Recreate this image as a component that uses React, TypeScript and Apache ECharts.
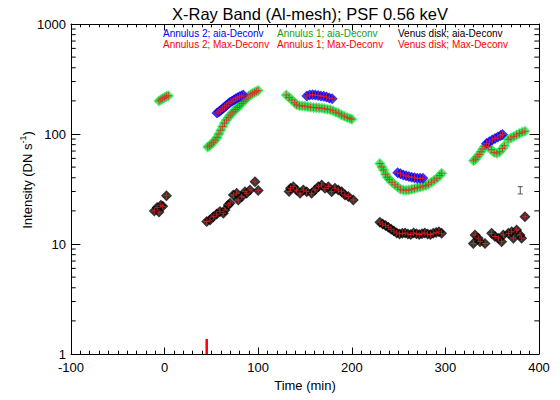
import { useEffect, useRef } from 'react';
import * as echarts from 'echarts';

// Annulus 1 (green), aia-Deconv; Max-Deconv coincides within a pixel
const annulus1 = [
  [-6, 200], [-4, 205], [-2, 210], [0, 215], [2, 220], [4, 223],
  [46, 76], [48, 78], [50, 81], [52, 84], [54, 88], [56, 93], [58, 100], [60, 108], [62, 117], [64, 126],
  [66, 134], [68, 141], [70, 148], [72, 155], [74, 161], [76, 167], [78, 174], [80, 181], [82, 189],
  [84, 197], [86, 205], [88, 213], [90, 221], [92, 228], [94, 234], [96, 238], [98, 243], [100, 248],
  [130, 226], [133, 215], [136, 204], [139, 192], [141, 184], [144, 181], [147, 180], [150, 179], [153, 177],
  [156, 175], [159, 174], [162, 173], [165, 172], [168, 171], [171, 170], [174, 168], [177, 166], [180, 163],
  [183, 158], [186, 154], [189, 149], [192, 145], [195, 141], [198, 138], [200, 136],
  [230, 54], [232, 50], [234, 47], [236, 43], [238, 40.5], [240, 38.5], [243, 36.5], [246, 34.5], [249, 33],
  [252, 31.5], [255, 31], [258, 30.8], [261, 31], [264, 31.5], [267, 32], [270, 32.5], [273, 33], [276, 33.5],
  [279, 34], [282, 35], [285, 36.5], [288, 38], [291, 39.5], [294, 42], [296, 44],
  [330, 57], [332, 59], [334, 62], [336, 65], [338, 69], [340, 73], [342, 77], [346, 76], [349, 72], [352, 68],
  [355, 67], [358, 69], [361, 74], [363, 78], [367, 89], [370, 92], [373, 95], [376, 98], [379, 101],
  [382, 104], [385, 106],
];

// Annulus 2 (blue), aia-Deconv
const annulus2 = [
  [56, 155], [58, 159], [60, 164], [62, 170], [64, 176], [66, 182], [68, 188], [70, 194], [72, 199],
  [74, 204], [76, 209], [78, 214], [80, 218], [82, 222], [84, 226],
  [152, 222], [155, 226], [158, 227], [161, 226], [164, 224], [167, 222], [170, 220], [173, 217], [176, 213], [179, 209],
  [249, 44.5], [252, 43.5], [255, 42.5], [258, 41.8], [261, 41], [264, 40.5], [267, 40], [270, 39.5], [273, 39.5], [276, 39.5],
  [344, 82], [347, 85], [350, 88], [353, 91], [356, 94], [359, 97], [361, 99],
];

// Venus disk, aia-Deconv
const venus = [
  [-11, 20], [-8, 21.5], [-6, 19.5], [-4, 22.5], [-2, 22], [2, 27.5],
  [45, 16], [48.5, 16.5], [52, 17.7], [55.7, 18.7], [59.2, 19.7], [62.7, 19], [64.5, 20.4], [68, 22.6],
  [69.9, 23.5], [73.4, 27.9], [77, 28.9], [78.7, 25.1], [82.4, 26.9], [85.9, 29.9], [87.7, 28.9],
  [91.2, 31], [96.6, 36.8], [100, 30.6],
  [133, 30], [134.5, 32.1], [137.5, 33.2], [141, 31], [144.7, 28.9], [148.2, 31], [151.8, 29.9], [157.1, 28.9],
  [160.7, 31], [164.2, 33.2], [167.8, 34.4], [171.4, 32.1], [174.9, 33.2], [178.5, 29.9], [182, 32.1],
  [185.6, 31], [189.2, 29.9], [192.7, 27.9], [196.3, 27], [201.6, 25.1],
  [230, 15.8], [233, 15.2], [236, 14.7], [239, 14.2], [242, 13.6], [245, 13.1], [248, 12.6], [251, 12.3],
  [254, 12.5], [257, 12.6], [260, 12.3], [263, 12.2], [266, 12.6], [269, 12.4], [272, 12.2], [275, 12.4],
  [278, 12.6], [281, 12.3], [284, 12.2], [287, 12.5], [290, 12.7], [293, 12.9], [296, 12.5],
  [329.8, 10.1], [331.6, 12.1], [335.1, 11.3], [337, 10.5], [342.3, 10.1], [349.4, 12.5], [353, 11.7],
  [356.5, 11.3], [360.1, 10.5], [361.9, 12.1], [367.2, 12.5], [370.8, 12.9], [372.6, 11.3], [376.1, 13.4],
  [379.7, 12.1], [381.5, 11.3], [385, 17.7],
];

// error bar: [time, low, high]
const errorBar = [[380, 28.5, 33.2]];
// red marker at the bottom: [time, low, high]
const timeMarker = [[45, 1, 1.37]];

const xRange = [-100, 400];
const xInterval = 100;
const yRange = [1, 1000];
const yMinorTicks = [2, 3, 4, 5, 6, 7, 8, 9, 20, 30, 40, 50, 60, 70, 80, 90, 200, 300, 400, 500, 600, 700, 800, 900];

const titleText = 'X-Ray Band (Al-mesh); PSF 0.56 keV';
const xName = 'Time (min)';
const legendRows = [
  [
    { text: 'Annulus 2; aia-Deconv', color: '#0000ff' },
    { text: 'Annulus 1; aia-Deconv', color: '#14a014' },
    { text: 'Venus disk; aia-Deconv', color: '#000000' },
  ],
  [
    { text: 'Annulus 2; Max-Deconv', color: '#ff0000' },
    { text: 'Annulus 1; Max-Deconv', color: '#ff0000' },
    { text: 'Venus disk; Max-Deconv', color: '#ff0000' },
  ],
];

const FONT = "'Liberation Sans', Arial, Helvetica, sans-serif";
const PLUS = 'path://M0,3H7V4H0Z M3,0H4V7H3Z';

export default function App() {
  const ref = useRef<HTMLDivElement>(null);
  useEffect(() => {
    if (!ref.current) return;
    const chart = echarts.init(ref.current, null, { renderer: 'svg' });
    const colX = [163, 277, 398];
    const rowY = [33, 44.5];
    const legendGraphics: any[] = [];
    legendRows.forEach((row, r) =>
      row.forEach((item, c) =>
        legendGraphics.push({
          type: 'text',
          x: colX[c],
          y: rowY[r],
          style: {
            text: item.text, fill: item.color, fontFamily: FONT, fontSize: 10,
            verticalAlign: 'middle', align: 'left',
          },
        })
      )
    );

    const axisCommon = {
      axisLine: { onZero: false, lineStyle: { color: '#000', width: 1 } },
      splitLine: { show: false },
    };
    const xAxisBase = {
      type: 'value',
      min: xRange[0],
      max: xRange[1],
      interval: xInterval,
      ...axisCommon,
      axisTick: { inside: true, length: 6.5, lineStyle: { color: '#000' } },
      minorTick: { show: true, splitNumber: 10, length: 3.3, lineStyle: { color: '#000' } },
      minorSplitLine: { show: false },
    };
    const yAxisBase = {
      type: 'log',
      logBase: 10,
      min: yRange[0],
      max: yRange[1],
      ...axisCommon,
      axisTick: { inside: true, length: 9.4, lineStyle: { color: '#000' } },
    };

    const option: any = {
      animation: false,
      backgroundColor: '#fff',
      title: {
        text: titleText,
        left: 305,
        top: 0,
        textAlign: 'center',
        textStyle: { fontFamily: FONT, fontSize: 16.5, fontWeight: 'normal', color: '#000' },
      },
      grid: { left: 71, right: 21, top: 24, bottom: 46 },
      xAxis: [
        {
          ...xAxisBase,
          position: 'bottom',
          axisLabel: { fontFamily: FONT, fontSize: 13, color: '#000', margin: 7 },
          name: xName,
          nameLocation: 'middle',
          nameGap: 25,
          nameTextStyle: { fontFamily: FONT, fontSize: 13, color: '#000' },
        },
        { ...xAxisBase, position: 'top', axisLabel: { show: false } },
      ],
      yAxis: [
        {
          ...yAxisBase,
          position: 'left',
          axisLabel: { fontFamily: FONT, fontSize: 13, color: '#000', margin: 5, formatter: (v: number) => String(v) },
        },
        { ...yAxisBase, position: 'right', axisLabel: { show: false } },
      ],
      graphic: [
        ...legendGraphics,
        {
          type: 'text',
          x: 26,
          y: 180,
          rotation: Math.PI / 2,
          style: {
            text: '{a|Intensity (DN s}{b|-1}{a|)}',
            align: 'center',
            verticalAlign: 'middle',
            rich: {
              a: { fontFamily: FONT, fontSize: 13, fill: '#000', lineHeight: 16, verticalAlign: 'bottom' },
              b: { fontFamily: FONT, fontSize: 9, fill: '#000', lineHeight: 16, verticalAlign: 'top', padding: [0, 0, 6, 0] },
            },
          },
        },
      ],
      series: [
        {
          name: 'Annulus 1; aia-Deconv', type: 'scatter', data: annulus1, symbol: 'diamond', symbolSize: 11,
          itemStyle: { color: '#18f048' }, silent: true,
        },
        {
          name: 'Annulus 2; aia-Deconv', type: 'scatter', data: annulus2, symbol: 'diamond', symbolSize: 11,
          itemStyle: { color: '#0000ff' }, silent: true,
        },
        {
          name: 'Annulus 1; Max-Deconv', type: 'scatter', data: annulus1, symbol: PLUS, symbolSize: 7,
          itemStyle: { color: '#e02a2a', opacity: 0.85 }, silent: true,
        },
        {
          name: 'Annulus 2; Max-Deconv', type: 'scatter', data: annulus2, symbol: PLUS, symbolSize: 7,
          itemStyle: { color: '#e82020' }, silent: true,
        },
        {
          name: 'Venus disk; aia-Deconv', type: 'scatter', data: venus, symbol: 'diamond', symbolSize: 11,
          itemStyle: { color: '#000' }, silent: true,
        },
        {
          name: 'Venus disk; Max-Deconv', type: 'scatter', data: venus, symbol: PLUS, symbolSize: 6,
          itemStyle: { color: '#ff2020' }, silent: true,
        },
        {
          type: 'custom', silent: true, data: errorBar,
          renderItem: (params: any, api: any) => {
            const lo = api.coord([api.value(0), api.value(1)]);
            const hi = api.coord([api.value(0), api.value(2)]);
            const st = { stroke: '#555', lineWidth: 1 };
            return {
              type: 'group',
              children: [
                { type: 'line', shape: { x1: lo[0], y1: lo[1], x2: hi[0], y2: hi[1] }, style: st },
                { type: 'line', shape: { x1: lo[0] - 2.5, y1: lo[1], x2: lo[0] + 2.5, y2: lo[1] }, style: st },
                { type: 'line', shape: { x1: hi[0] - 2.5, y1: hi[1], x2: hi[0] + 2.5, y2: hi[1] }, style: st },
              ],
            };
          },
        },
        {
          type: 'custom', silent: true, data: timeMarker,
          renderItem: (params: any, api: any) => {
            const lo = api.coord([api.value(0), api.value(1)]);
            const hi = api.coord([api.value(0), api.value(2)]);
            return {
              type: 'line',
              shape: { x1: lo[0], y1: lo[1], x2: hi[0], y2: hi[1] },
              style: { stroke: '#ff0000', lineWidth: 2.5 },
            };
          },
        },
        {
          type: 'custom', silent: true, data: yMinorTicks.map((v) => [xRange[0], v]),
          renderItem: (params: any, api: any) => {
            const v = api.value(1);
            const pl = api.coord([xRange[0], v]);
            const pr = api.coord([xRange[1], v]);
            const st = { stroke: '#000', lineWidth: 1 };
            return {
              type: 'group',
              children: [
                { type: 'line', shape: { x1: pl[0], y1: pl[1], x2: pl[0] + 4.7, y2: pl[1] }, style: st },
                { type: 'line', shape: { x1: pr[0], y1: pr[1], x2: pr[0] - 4.7, y2: pr[1] }, style: st },
              ],
            };
          },
        },
      ],
    };
    chart.setOption(option);
    return () => chart.dispose();
  }, []);
  return <div ref={ref} style={{ position: 'absolute', left: 0, top: 0, width: 560, height: 400 }} />;
}
